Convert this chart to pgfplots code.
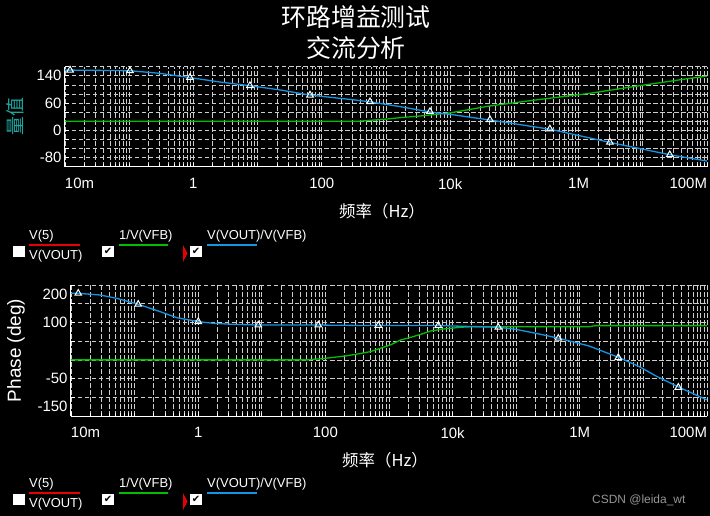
\documentclass[border=0pt]{standalone}
\usepackage{fontspec}
\setmainfont{Liberation Sans}
\newfontfamily\cjk{Noto Sans CJK SC}
\newfontfamily\sym{DejaVu Sans}
\usepackage{pgfplots}
\pgfplotsset{compat=1.18}
\definecolor{tblue}{RGB}{20,150,230}
\definecolor{tgreen}{RGB}{0,190,0}
\definecolor{tred}{RGB}{230,0,0}
\definecolor{gridc}{RGB}{205,205,205}
\definecolor{tealc}{RGB}{30,165,160}
\definecolor{wmc}{RGB}{150,150,150}
\newcommand{\lf}{\fontsize{13}{13}\selectfont}
\begin{document}
\begin{tikzpicture}
\useasboundingbox (0,0) rectangle (710bp,516bp);
\fill[black] (0,0) rectangle (710bp,516bp);

% titles
\node[text=white, font=\cjk\fontsize{25}{25}\selectfont] at (356bp,499bp) {环路增益测试};
\node[text=white, font=\cjk\fontsize{25}{25}\selectfont] at (356bp,468bp) {交流分析};

% top panel: magnitude
\begin{axis}[at={(65bp,349.3bp)}, anchor=south west, width=642bp, height=100bp,
    xmode=log, scale only axis, xmin=0.01, xmax=1e8,
    axis x line*=bottom, axis y line*=left,
    axis line style={white, line width=1bp, -},
    tick style={white, line width=0.7bp},
    major tick length=4bp, minor tick length=3bp,
    xmajorgrids, xminorgrids, ymajorgrids,
    major grid style={gridc, line width=0.7bp, dash pattern=on 4.5bp off 2.5bp},
    minor grid style={gridc, line width=0.7bp, dash pattern=on 4.5bp off 2.5bp},
    tick label style={font=\fontsize{15}{15}\selectfont, text=white},
    x tick label style={yshift=-8bp},
    xtick={0.01,1,100,1e4,1e6,1e8},
    xticklabels={\rlap{10m},1,100,10k,1M,\llap{100M}},
    minor xtick={0.02,0.03,0.04,0.05,0.06,0.07,0.08,0.09,0.1,0.2,0.3,0.4,0.5,0.6,0.7,0.8,0.9,
      2,3,4,5,6,7,8,9,10,20,30,40,50,60,70,80,90,
      200,300,400,500,600,700,800,900,1000,2000,3000,4000,5000,6000,7000,8000,9000,
      2e4,3e4,4e4,5e4,6e4,7e4,8e4,9e4,1e5,2e5,3e5,4e5,5e5,6e5,7e5,8e5,9e5,
      2e6,3e6,4e6,5e6,6e6,7e6,8e6,9e6,1e7,2e7,3e7,4e7,5e7,6e7,7e7,8e7,9e7},
    xlabel={频率（Hz）},
    xlabel style={at={(rel axis cs:0.5,0)}, anchor=center, yshift=-44.5bp, xshift=-4bp,
      font=\cjk\fontsize{16.5}{16.5}\selectfont, text=white},
  ymin=-100, ymax=164,
  ytick={-100,-76,-52,-28,-4,20,44,68,92,116,140,164},
  yticklabels={,-80,,,0,,,60,,,140,},
  ylabel={量值},
  ylabel style={at={(axis description cs:-0.077,0.5)}, anchor=center,
    font=\cjk\fontsize{19}{19}\selectfont, text=tealc},
]
\addplot[tgreen, line width=1.3bp] coordinates {
 (0.01,20) (372,20) (1026,25.8) (1650,29.4) (3390,33.8) (9930,42) (40200,60)
 (2.1e5,76) (1.46e6,93.5) (9.9e6,115) (5.3e7,133) (1e8,139)};
\addplot[tblue, line width=1.3bp] coordinates {
 (0.01,155) (0.012,155) (0.1,153.5) (0.3,146.5) (0.9,135) (2.6,123.5) (8.3,113)
 (22.6,102.5) (66,89) (334,76) (573,71) (1680,58.5) (5000,44) (10150,38)
 (42700,23) (3.7e5,-1.5) (3.2e6,-36.5) (2.74e7,-69) (1e8,-85)};
\addplot[only marks, mark=triangle, mark size=3.8bp, mark options={white, line width=1bp}] coordinates {
 (0.012,155) (0.1028,153.4) (0.883,135.5) (7.6,114) (65.6,89) (563,71.5)
 (4840,45.5) (41600,24) (3.57e5,-0.5) (3.07e6,-35.5) (2.63e7,-68.5)};
\end{axis}

% bottom panel: phase
\begin{axis}[at={(71bp,100bp)}, anchor=south west, width=636bp, height=131bp,
    xmode=log, scale only axis, xmin=0.01, xmax=1e8,
    axis x line*=bottom, axis y line*=left,
    axis line style={white, line width=1bp, -},
    tick style={white, line width=0.7bp},
    major tick length=4bp, minor tick length=3bp,
    xmajorgrids, xminorgrids, ymajorgrids,
    major grid style={gridc, line width=0.7bp, dash pattern=on 4.5bp off 2.5bp},
    minor grid style={gridc, line width=0.7bp, dash pattern=on 4.5bp off 2.5bp},
    tick label style={font=\fontsize{15}{15}\selectfont, text=white},
    x tick label style={yshift=-8bp},
    xtick={0.01,1,100,1e4,1e6,1e8},
    xticklabels={\rlap{10m},1,100,10k,1M,\llap{100M}},
    minor xtick={0.02,0.03,0.04,0.05,0.06,0.07,0.08,0.09,0.1,0.2,0.3,0.4,0.5,0.6,0.7,0.8,0.9,
      2,3,4,5,6,7,8,9,10,20,30,40,50,60,70,80,90,
      200,300,400,500,600,700,800,900,1000,2000,3000,4000,5000,6000,7000,8000,9000,
      2e4,3e4,4e4,5e4,6e4,7e4,8e4,9e4,1e5,2e5,3e5,4e5,5e5,6e5,7e5,8e5,9e5,
      2e6,3e6,4e6,5e6,6e6,7e6,8e6,9e6,1e7,2e7,3e7,4e7,5e7,6e7,7e7,8e7,9e7},
    xlabel={频率（Hz）},
    xlabel style={at={(rel axis cs:0.5,0)}, anchor=center, yshift=-44.5bp, xshift=-4bp,
      font=\cjk\fontsize{16.5}{16.5}\selectfont, text=white},
  ymin=-150, ymax=200,
  ytick={-150,-100,-50,0,50,100,150,200},
  yticklabels={\raisebox{4.5bp}[0pt][0pt]{-150},,-50,,,100,,\raisebox{-14.5bp}[0pt][0pt]{200}},
  ylabel={Phase (deg)},
  ylabel style={at={(axis description cs:-0.0865,0.5)}, anchor=center,
    font=\fontsize{19}{19}\selectfont, text=white},
]
\addplot[tgreen, line width=1.3bp] coordinates {
 (0.01,0) (54,0) (111,5) (220,11) (356,17) (511,22) (735,31) (1057,40) (1518,53)
 (2181,60) (3134,68) (4505,77) (7215,82.5) (13370,87) (20400,88.7) (1.4e6,88.7)
 (1.79e6,91.4) (1e8,91.4)};
\addplot[tblue, line width=1.3bp] coordinates {
 (0.01,178) (0.013,177.7) (0.0286,173.3) (0.0524,164.4) (0.115,148.3) (0.252,128.8)
 (0.461,112.7) (1.01,102) (1.74,97.6) (3.6,94.9) (8.9,93) (78.5,93) (297,92)
 (676,92) (6100,91.5) (53500,87) (98000,81.6) (2.03e5,71) (4.72e5,57.5)
 (1.4e6,37) (4.16e6,6) (8.6e6,-18) (1.57e7,-43) (3.66e7,-73.5) (1e8,-107)};
\addplot[only marks, mark=triangle, mark size=3.8bp, mark options={white, line width=1bp}] coordinates {
 (0.013,177.7) (0.114,148.3) (1.004,102) (8.81,93) (77.3,93) (679,92)
 (5960,91.5) (52300,87) (4.59e5,57.5) (4.03e6,6) (3.54e7,-73.5)};
\end{axis}

% legends
\foreach \dy in {0bp,-248bp}{
\begin{scope}[yshift=\dy]
  \node[anchor=west, inner sep=0, text=white, font=\lf] at (29bp,280bp) {V(5)};
  \draw[tred, line width=1.2bp] (29bp,271bp) -- (80bp,271bp);
  \node[anchor=west, inner sep=0, text=white, font=\lf] at (29bp,260bp) {V(VOUT)};
  \fill[white] (13bp,259bp) rectangle (25bp,270bp);
  \fill[white] (102bp,259bp) rectangle (114bp,270bp);
  \node[inner sep=0, text=black, font=\sym\fontsize{10}{10}\selectfont] at (108bp,264.5bp) {✔};
  \node[anchor=west, inner sep=0, text=white, font=\lf] at (119bp,280bp) {1/V(VFB)};
  \draw[tgreen, line width=1.2bp] (119bp,271bp) -- (168bp,271bp);
  \fill[tred] (183bp,254bp) -- (183bp,271bp) -- (187.5bp,262.5bp) -- cycle;
  \fill[white] (190bp,259bp) rectangle (202bp,270bp);
  \node[inner sep=0, text=black, font=\sym\fontsize{10}{10}\selectfont] at (196bp,264.5bp) {✔};
  \node[anchor=west, inner sep=0, text=white, font=\lf] at (207bp,280bp) {V(VOUT)/V(VFB)};
  \draw[tblue, line width=1.2bp] (207bp,271bp) -- (257bp,271bp);
\end{scope}
}

% watermark
\node[anchor=west, inner sep=0, text=wmc, font=\fontsize{12}{12}\selectfont] at (592bp,16bp) {CSDN @leida\_wt};
\end{tikzpicture}
\end{document}
